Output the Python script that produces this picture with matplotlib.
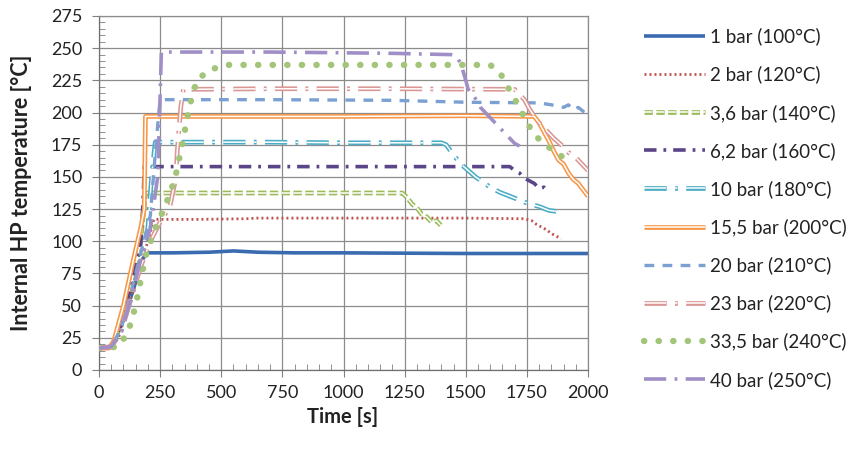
import matplotlib
matplotlib.use("Agg")
import matplotlib.pyplot as plt
from matplotlib.ticker import MultipleLocator

plt.rcParams['font.family'] = ['Lato', 'DejaVu Sans']
plt.rcParams['lines.scale_dashes'] = False

labels = ["1 bar (100°C)", "2 bar (120°C)", "3,6 bar (140°C)", "6,2 bar (160°C)",
          "10 bar (180°C)", "15,5 bar (200°C)", "20 bar (210°C)", "23 bar (220°C)",
          "33,5 bar (240°C)", "40 bar (250°C)"]

t1 = [0, 40, 60, 100, 140, 175, 195, 300, 450, 550, 650, 800, 1000, 1500, 2000]
T1 = [17, 17, 20, 40, 62, 85, 91, 91, 91.5, 92.5, 91.5, 91, 91, 90.5, 90.5]

t2 = [0, 50, 80, 120, 160, 200, 225, 400, 600, 650, 1000, 1500, 1740, 1770, 1790, 1810, 1830, 1850, 1870, 1890]
T2 = [17, 18, 25, 50, 75, 100, 117, 117, 117.5, 118, 118, 118, 117.5, 116, 113, 111, 109, 106, 104, 102]

t3 = [0, 50, 90, 130, 170, 190, 600, 1000, 1240, 1260, 1280, 1300, 1320, 1340, 1360, 1380, 1400]
T3 = [17, 18, 35, 65, 100, 137.5, 137.5, 137.5, 137.5, 134, 129, 126, 121, 119, 115, 116, 112]

t4 = [0, 50, 90, 130, 170, 180, 185, 700, 1200, 1680, 1700, 1720, 1740, 1760, 1780, 1800, 1820, 1840]
T4 = [17, 18, 35, 65, 95, 130, 158, 158, 158, 158, 155, 153, 149, 147, 145, 141, 142, 138]

t5 = [0, 50, 90, 130, 170, 200, 215, 230, 700, 1000, 1400, 1420, 1450, 1480, 1510, 1540, 1570,
      1600, 1640, 1680, 1720, 1760, 1800, 1840, 1880, 1900]
T5 = [17, 18, 30, 55, 85, 110, 150, 177, 177, 176.5, 176.5, 175, 167, 160, 155, 150, 146,
      142, 138, 135, 132, 129, 127, 124, 123, 121]

t6 = [0, 40, 60, 100, 140, 170, 185, 190, 500, 1000, 1500, 1780, 1800, 1820, 1840, 1860, 1880,
      1900, 1920, 1940, 1960, 1980, 2000]
T6 = [17, 17, 22, 50, 85, 110, 125, 197, 197, 197, 197.5, 197, 192, 185, 178, 170, 163,
      160, 153, 148, 145, 140, 135]

t7 = [0, 50, 90, 130, 170, 210, 235, 250, 700, 1200, 1500, 1800, 1850, 1900, 1920, 1940, 1960, 1980, 2000]
T7 = [17, 18, 32, 60, 90, 120, 180, 210, 210, 209.5, 208, 207.5, 206, 204, 206, 202, 204, 201, 199]

t8 = [0, 50, 90, 130, 170, 210, 250, 290, 315, 320, 335, 345, 700, 1200, 1700, 1720, 1740, 1760,
      1780, 1800, 1830, 1860, 1890, 1920, 1950, 1980, 2000]
T8 = [17, 18, 30, 55, 80, 100, 115, 127, 150, 170, 205, 218, 218.5, 218.5, 218, 214, 210, 203,
      197, 192, 186, 180, 175, 169, 165, 159, 155]

t9 = [0, 80, 120, 150, 190, 230, 270, 310, 340, 370, 400, 450, 520, 1000, 1600, 1640, 1680, 1720,
      1750, 1790, 1840, 1900]
T9 = [17, 18, 30, 50, 88, 110, 127, 148, 175, 205, 225, 233, 237, 237, 237, 231, 217, 204,
      192, 181, 173, 165]

t10 = [0, 50, 90, 130, 170, 210, 240, 248, 255, 700, 1200, 1440, 1460, 1480, 1500, 1510, 1530,
       1560, 1600, 1640, 1680, 1700, 1720]
T10 = [17, 18, 30, 55, 85, 110, 150, 200, 247, 247, 246, 245, 244, 238, 225, 218, 214,
       204, 196, 188, 180, 176, 174]

fig = plt.figure(figsize=(8.51, 4.5), dpi=100)
ax = fig.add_axes([99/851, 1-370/450, (588-99)/851, (370-16)/450])

handles = []

def single(t, T, color, lw, dashes=None, cap='butt', z=2):
    kw = dict(color=color, lw=lw, solid_capstyle=cap, dash_capstyle=cap, zorder=z)
    l, = ax.plot(t, T, **kw)
    if dashes is not None:
        l.set_dashes(dashes)
    return l

def double(t, T, color, dashes=None, z=2):
    a = single(t, T, color, 3.4, dashes, z=z)
    b = single(t, T, 'white', 1.1, dashes, z=z + 0.1)
    return (a, b)

handles.append(single(t1, T1, '#3A6BB0', 2.6, None, z=2))
handles.append(single(t2, T2, '#C0504D', 2.0, (1.4, 2.2), z=3))
handles.append(double(t3, T3, '#9BBB59', (6, 2.5), z=4))
handles.append(single(t4, T4, '#5A4588', 2.6, (9, 5, 2, 5), z=5))
handles.append(double(t5, T5, '#4BACC6', (16, 6, 2, 6), z=6))
handles.append(double(t6, T6, '#F79646', None, z=7))
handles.append(single(t7, T7, '#7BA0D2', 2.4, (7, 6), z=8))
handles.append(double(t8, T8, '#D99694', (16, 6, 2, 6), z=9))
handles.append(single(t9, T9, '#A2C579', 4.6, (0.2, 10.3), cap='round', z=10))
handles.append(single(t10, T10, '#A08FC6', 2.6, (16, 6, 2, 6), z=11))

ax.set_xlim(0, 2000)
ax.set_ylim(0, 275)
ax.xaxis.set_major_locator(MultipleLocator(250))
ax.xaxis.set_minor_locator(MultipleLocator(50))
ax.yaxis.set_major_locator(MultipleLocator(25))
ax.yaxis.set_minor_locator(MultipleLocator(5))
ax.grid(True, which='major', color='#8c8c8c', lw=0.9, zorder=0)
ax.set_axisbelow(True)
ax.tick_params(which='major', direction='out', length=5, color='#808080', labelsize=13,
               labelcolor='#222222')
ax.tick_params(axis='y', which='major', pad=7)
ax.tick_params(axis='x', which='major', pad=6)
ax.tick_params(which='minor', direction='in', length=4, color='#808080')
for s in ax.spines.values():
    s.set_color('#8c8c8c')
    s.set_linewidth(0.9)
ax.spines['left'].set_color('#707070')
ax.spines['bottom'].set_color('#707070')

ax.set_xlabel('Time [s]', fontsize=14.5, fontweight='bold', color='#222222')
ax.set_ylabel('Internal HP temperature [°C]', fontsize=15.5, fontweight='bold', color='#222222')
ax.xaxis.set_label_coords((343 - 99) / 489, (370 - 407) / 354)
ax.yaxis.set_label_coords((32 - 99) / 489, 0.5)

fig.legend(handles, labels, loc='upper left', bbox_to_anchor=(636/851, 1-20/450),
           frameon=False, fontsize=13.5, handlelength=3.3, handletextpad=0.25,
           labelspacing=1.08, borderaxespad=0, labelcolor='#222222')

fig.savefig('out.png', dpi=100)
